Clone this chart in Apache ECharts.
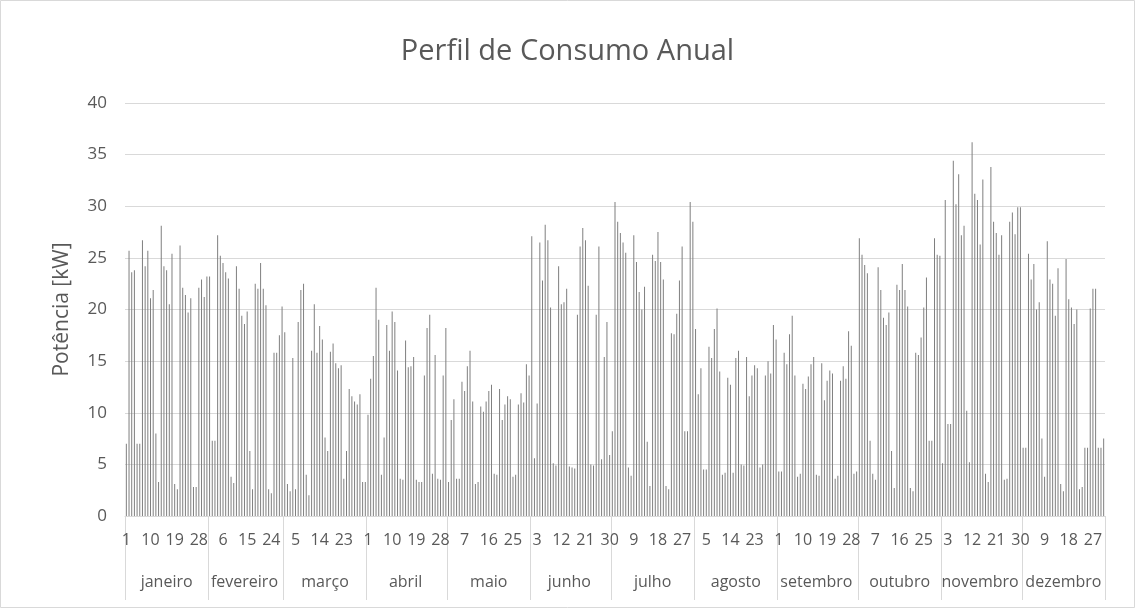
<!DOCTYPE html>
<html><head><meta charset="utf-8">
<script src="https://cdn.jsdelivr.net/npm/echarts@6/dist/echarts.min.js"></script>
<style>html,body{margin:0;padding:0;background:#fff}#c{width:1135px;height:608px}</style>
</head><body><div id="c"></div>
<script>
const monthNames = ['janeiro','fevereiro','março','abril','maio','junho','julho','agosto','setembro','outubro','novembro','dezembro'];
const jan = [7.0,25.7,23.6,23.8,7.0,7.0,26.7,24.2,25.7,21.1,21.9,8.0,3.3,28.1,24.2,23.8,20.5,25.4,3.1,2.6,26.2,22.1,21.4,19.7,21.1,2.8,2.8,22.1,22.9,21.2,23.2];
const feb = [23.2,7.3,7.3,27.2,25.2,24.5,23.6,23.0,3.8,3.2,24.2,22.0,19.4,18.6,19.8,6.3,2.6,22.5,22.0,24.5,22.0,20.4,2.6,2.2,15.8,15.8,17.5,20.3];
const mar = [17.8,3.1,2.4,15.3,2.6,18.8,21.9,22.5,4.0,2.0,16.0,20.5,15.8,18.4,17.1,7.6,6.3,15.9,16.7,14.8,14.3,14.6,3.6,6.3,12.3,11.6,11.1,10.8,11.8,3.3,3.3];
const apr = [9.8,13.3,15.5,22.1,19.0,4.0,7.6,18.5,16.0,19.8,18.8,14.1,3.6,3.5,17.0,14.4,14.5,15.4,3.5,3.3,3.3,13.6,18.2,19.5,4.1,15.6,3.6,3.5,13.6,18.2];
const may = [3.3,9.3,11.3,3.6,3.6,13.0,12.1,14.5,16.0,11.1,3.1,3.3,10.6,10.1,11.1,12.1,12.7,4.1,4.0,12.3,9.3,10.8,11.6,11.3,3.8,4.0,10.8,11.9,11.0,14.7,13.6];
const jun = [27.1,5.6,10.9,26.5,22.8,28.2,26.7,20.2,5.1,4.9,24.2,20.5,20.7,22.0,4.8,4.7,4.6,19.5,26.1,27.9,26.7,22.3,5.0,4.9,19.5,26.1,5.5,15.4,18.8,5.9];
const jul = [8.2,30.4,28.5,27.4,26.5,25.5,4.7,3.9,27.2,24.6,21.7,20.0,22.2,7.2,2.9,25.3,24.7,27.5,24.6,22.9,2.9,2.6,17.7,17.6,19.6,22.8,26.1,8.2,8.2,30.4,28.5];
const aug = [18.1,11.8,14.3,4.5,4.5,16.4,15.3,18.1,20.1,14.0,4.0,4.2,13.4,12.7,4.2,15.3,16.0,5.0,4.9,15.4,11.6,13.6,14.6,14.3,4.7,5.0,13.6,15.0,13.8,18.5,17.1];
const sep = [4.3,4.3,15.8,14.7,17.6,19.4,13.6,3.8,4.1,12.8,12.3,13.5,14.7,15.4,4.0,3.9,14.8,11.2,13.1,14.1,13.8,3.6,3.9,13.1,14.5,13.3,17.9,16.5,4.1,4.3];
const oct = [26.9,25.3,24.3,23.5,7.3,4.1,3.5,24.1,21.9,19.2,18.5,19.7,6.3,2.7,22.4,21.9,24.4,21.9,20.3,2.7,2.4,15.8,15.6,17.3,20.2,23.1,7.3,7.3,26.9,25.3,25.2];
const nov = [5.1,30.6,8.9,8.9,34.4,30.2,33.1,27.2,28.1,10.2,5.2,36.2,31.2,30.6,26.3,32.6,4.1,3.3,33.8,28.5,27.4,25.3,27.2,3.5,3.6,28.5,29.4,27.3,29.9,29.9];
const dec = [6.6,6.6,25.4,22.9,24.4,20.0,20.7,7.5,3.8,26.6,22.9,22.5,19.4,24.0,3.1,2.4,24.9,21.0,20.2,18.6,20.0,2.6,2.8,6.6,6.6,20.1,22.0,22.0,6.6,6.6,7.5];
const yTicks = [0,5,10,15,20,25,30,35,40];

const months = [jan,feb,mar,apr,may,jun,jul,aug,sep,oct,nov,dec];
const values = [], dayLabels = [], monthOfDay = [];
const monthStart = new Set(), monthMid = new Set();
let idx = 0;
months.forEach((m, mi) => {
  monthStart.add(idx);
  monthMid.add(idx + Math.floor((m.length - 1) / 2));
  m.forEach((v, d) => { values.push(v); dayLabels.push(String(d + 1)); monthOfDay.push(monthNames[mi]); idx++; });
});

const txt = '#595959', grid = '#d9d9d9', font = 'Open Sans';
const chart = echarts.init(document.getElementById('c'));
chart.setOption({
  animation: false,
  backgroundColor: '#fff',
  title: { text: 'Perfil de Consumo Anual', left: 'center', top: 32,
    textStyle: { fontFamily: font, fontSize: 29, fontWeight: 'normal', color: txt } },
  grid: { left: 125, right: 30, top: 103, bottom: 92 },
  xAxis: [
    { type: 'category', data: dayLabels, position: 'bottom',
      axisLine: { lineStyle: { color: grid } }, axisTick: { show: false },
      axisLabel: { interval: 8, margin: 16, fontSize: 16, color: txt, fontFamily: font } },
    { type: 'category', data: monthOfDay, position: 'bottom', offset: 0,
      axisLine: { show: false },
      axisTick: { show: true, interval: (i) => monthStart.has(i), length: 84, lineStyle: { color: grid } },
      axisLabel: { interval: (i) => monthMid.has(i), margin: 58, fontSize: 16, color: txt, fontFamily: font } }
  ],
  yAxis: { type: 'value', min: yTicks[0], max: yTicks[yTicks.length - 1], interval: 5,
    name: 'Potência [kW]', nameLocation: 'middle', nameGap: 52,
    nameTextStyle: { fontSize: 21, color: txt, fontFamily: font },
    axisLabel: { fontSize: 17, color: txt, margin: 18, fontFamily: font },
    splitLine: { lineStyle: { color: grid } }, axisLine: { show: false }, axisTick: { show: false } },
  series: [{ type: 'bar', data: values, xAxisIndex: 0, barWidth: 1, itemStyle: { color: '#7f7f7f' } }],
  graphic: [{ type: 'rect', shape: { x: 0.5, y: 0.5, width: 1134, height: 607 },
    style: { fill: null, stroke: grid, lineWidth: 1 }, silent: true }]
});
</script></body></html>
